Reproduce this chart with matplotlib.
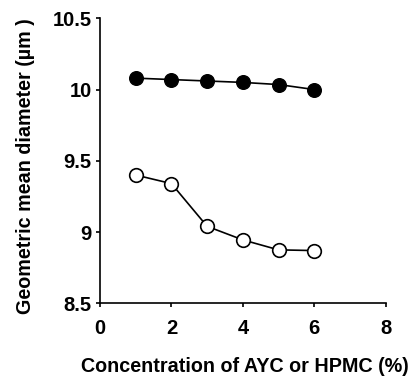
import matplotlib
matplotlib.use("Agg")
import matplotlib.pyplot as plt

conc = [1, 2, 3, 4, 5, 6]
ayc = [10.08, 10.07, 10.06, 10.05, 10.035, 10.00]
hpmc = [9.40, 9.34, 9.04, 8.945, 8.875, 8.87]
xticks = [0, 2, 4, 6, 8]
yticks = [8.5, 9, 9.5, 10, 10.5]
ytick_labels = ["8.5", "9", "9.5", "10", "10.5"]

plt.rcParams['font.family'] = ['Liberation Sans', 'DejaVu Sans']
plt.rcParams['font.weight'] = 'bold'

fig = plt.figure(figsize=(4.16, 3.77), dpi=100)
ax = fig.add_axes([0.2404, 0.1955, 0.927 - 0.2404, 0.9515 - 0.1955])

ax.plot(conc, ayc, color='black', lw=1.2, marker='o', ms=9.8,
        markerfacecolor='black', markeredgecolor='black', zorder=3)
ax.plot(conc, hpmc, color='black', lw=1.2, marker='o', ms=9.8,
        markerfacecolor='white', markeredgecolor='black', markeredgewidth=1.2, zorder=3)

ax.set_xlim(0, 8)
ax.set_ylim(8.5, 10.5)
ax.set_xticks(xticks)
ax.set_xticklabels([str(t) for t in xticks])
ax.set_yticks(yticks)
ax.set_yticklabels(ytick_labels)
ax.spines['top'].set_visible(False)
ax.spines['right'].set_visible(False)
for s in ['left', 'bottom']:
    ax.spines[s].set_linewidth(1.2)
ax.tick_params(direction='out', length=3, width=1.2, labelsize=14.5)
ax.tick_params(axis='x', pad=8)
ax.tick_params(axis='y', pad=3)
for lab in ax.get_xticklabels() + ax.get_yticklabels():
    lab.set_fontweight('bold')

ax.set_xlabel("Concentration of AYC or HPMC (%)", fontsize=14.2, fontweight='bold')
ax.set_ylabel("Geometric mean diameter (\u00b5m )", fontsize=14.2, fontweight='bold')
ax.xaxis.set_label_coords(0.508, (303.3 - 367) / 285.0)
ax.xaxis.label.set_verticalalignment('center')
ax.yaxis.set_label_coords((25 - 100) / 285.7, 0.483)
ax.yaxis.label.set_verticalalignment('center')

fig.savefig("out.png", dpi=100)
